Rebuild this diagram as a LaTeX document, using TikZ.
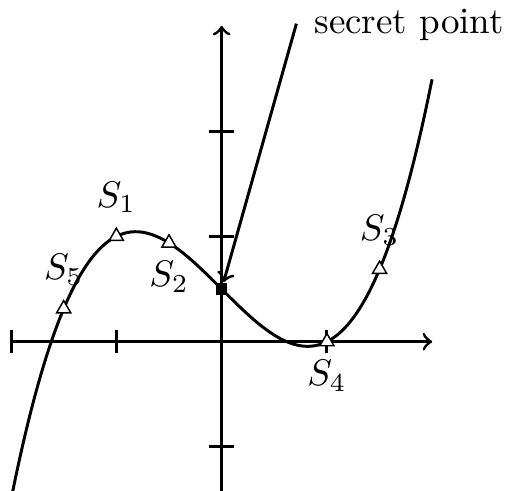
\documentclass[tikz,border=0pt]{standalone}
\usepackage{amssymb}
\usepackage{tikz}
\usetikzlibrary{shapes.geometric}

\begin{document}
\begin{tikzpicture}[thick,
  share/.style={regular polygon, regular polygon sides=3, draw, thin, fill=white, minimum size=0.155cm, inner sep=0pt},
  secret/.style={rectangle, fill=black, minimum size=0.105cm, inner sep=0pt}]
  \useasboundingbox (-2.105,-1.41) rectangle (2.71,3.245);
  \clip (-2.105,-1.41) rectangle (2.71,3.245);

  % Axes with ticks
  \draw[->] (-2,0) -- (2,0);
  \draw[->] (0,-1.6) -- (0,3);
  \foreach \x in {-2,-1,1} \draw (\x,-0.11) -- (\x,0.11);
  \foreach \y in {-1,1,2} \draw (-0.12,\y) -- (0.12,\y);

  % The polynomial f(x) = x^3/2 - x + 1/2
  \draw[domain=-2:2, samples=120, smooth] plot (\x, {0.5*\x*\x*\x - \x + 0.5});

  % Shares on the curve
  \node[share, label=above:$S_1$] (s1) at (-1,1) {};
  \node[share, label=below:$S_2$] (s2) at (-0.5,0.9375) {};
  \node[share, label=above:$S_3$] (s3) at (1.5,0.6875) {};
  \node[share, label=below:$S_4$] (s4) at (1,0) {};
  \node[share, label=above:$S_5$] (s5) at (-1.5,0.3125) {};

  % Secret at x = 0
  \node[secret] (sp) at (0,0.5) {};
  \coordinate (tail) at (0.71,3.02);
  \node[right] (sptext) at (0.75,3.01) {secret point};
  \draw[->] (tail) -- (sp);

\end{tikzpicture}
\end{document}
